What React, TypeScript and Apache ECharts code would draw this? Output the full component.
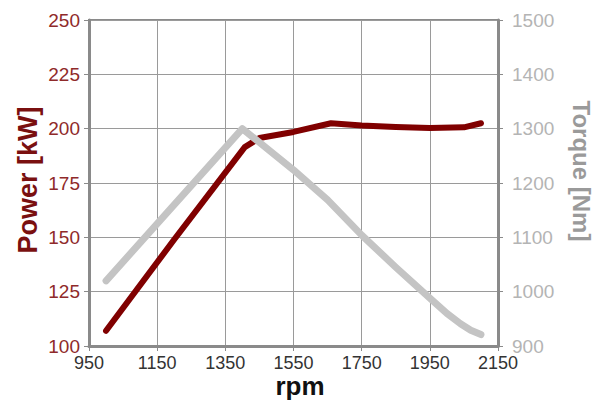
import React, { useEffect, useRef } from "react";
import * as echarts from "echarts";

const powerRpm = [1000, 1200, 1407, 1450, 1550, 1660, 1750, 1850, 1950, 2050, 2100];
const powerKw = [107, 149, 191.5, 195.7, 198.5, 202.5, 201.5, 200.8, 200.3, 200.6, 202.5];

const torqueRpm = [1000, 1400, 1550, 1650, 1750, 1850, 1950, 2000, 2040, 2070, 2100];
const torqueNm = [1020, 1300, 1224, 1169, 1104, 1045, 988, 960, 941, 929, 921];

const xTitle = "rpm";
const leftTitle = "Power [kW]";
const rightTitle = "Torque [Nm]";

const FONT = "Liberation Sans, Arial, sans-serif";

export default function App() {
  const ref = useRef<HTMLDivElement>(null);
  useEffect(() => {
    document.body.style.margin = "0";
    if (!ref.current) return;
    const chart = echarts.init(ref.current, undefined, { renderer: "svg" });
    const powerData = powerRpm.map((r, i) => [r, powerKw[i]]);
    const torqueData = torqueRpm.map((r, i) => [r, torqueNm[i]]);
    const plain = (v: number) => String(v);
    chart.setOption({
      animation: false,
      backgroundColor: "#ffffff",
      grid: {
        left: 89,
        right: 97,
        top: 20,
        bottom: 54,
        show: true,
        borderColor: "#8a8a8a",
        borderWidth: 2,
        backgroundColor: "transparent",
      },
      xAxis: {
        type: "value",
        min: 950,
        max: 2150,
        interval: 200,
        axisLine: { show: true, onZero: false, lineStyle: { color: "#8a8a8a", width: 3 } },
        axisTick: { show: true, length: 5, lineStyle: { color: "#8a8a8a" } },
        axisLabel: { color: "#333333", fontSize: 18, fontFamily: FONT, margin: 8, formatter: plain },
        splitLine: { show: true, lineStyle: { color: "#9a9a9a", width: 1 } },
      },
      yAxis: [
        {
          type: "value",
          min: 100,
          max: 250,
          interval: 25,
          position: "left",
          axisLine: { show: true, lineStyle: { color: "#8a8a8a", width: 3 } },
          axisTick: { show: true, length: 5, lineStyle: { color: "#8a8a8a" } },
          axisLabel: { color: "#8f2a2a", fontSize: 19, fontFamily: FONT, margin: 9, formatter: plain },
          splitLine: { show: true, lineStyle: { color: "#9a9a9a", width: 1 } },
        },
        {
          type: "value",
          min: 900,
          max: 1500,
          interval: 100,
          position: "right",
          axisLine: { show: true, lineStyle: { color: "#8a8a8a", width: 3 } },
          axisTick: { show: true, length: 5, lineStyle: { color: "#8a8a8a" } },
          axisLabel: { color: "#b4b4b4", fontSize: 19, fontFamily: FONT, margin: 14, formatter: plain },
          splitLine: { show: false },
        },
      ],
      series: [
        {
          type: "line",
          yAxisIndex: 0,
          data: powerData,
          symbol: "none",
          lineStyle: { color: "#800000", width: 6, cap: "round", join: "round" },
          z: 2,
        },
        {
          type: "line",
          yAxisIndex: 1,
          data: torqueData,
          symbol: "none",
          lineStyle: { color: "#c4c4c4", width: 7, cap: "round", join: "round" },
          z: 3,
        },
      ],
      graphic: [
        {
          type: "text",
          x: 27.5,
          y: 180,
          rotation: Math.PI / 2,
          style: {
            text: leftTitle,
            fill: "#7a1010",
            font: `bold 27px ${FONT}`,
            textAlign: "center",
            textVerticalAlign: "middle",
          },
        },
        {
          type: "text",
          x: 581.5,
          y: 171,
          rotation: -Math.PI / 2,
          style: {
            text: rightTitle,
            fill: "#9a9a9a",
            font: `bold 24px ${FONT}`,
            textAlign: "center",
            textVerticalAlign: "middle",
          },
        },
        {
          type: "text",
          x: 300,
          y: 386,
          style: {
            text: xTitle,
            fill: "#111111",
            font: `bold 26px ${FONT}`,
            textAlign: "center",
            textVerticalAlign: "middle",
          },
        },
      ],
    });
    return () => chart.dispose();
  }, []);
  return <div ref={ref} style={{ width: 595, height: 400 }} />;
}
